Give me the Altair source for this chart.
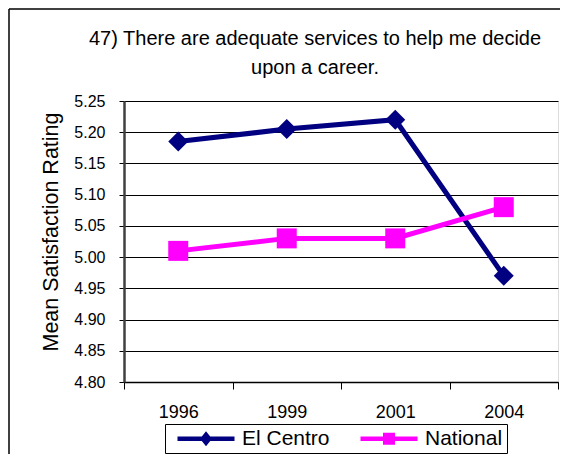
import altair as alt
import pandas as pd

# ---- data ----
years = ["1996", "1999", "2001", "2004"]
el_centro = [5.185, 5.205, 5.22, 4.97]
national = [5.01, 5.03, 5.03, 5.08]
series_names = ["El Centro", "National"]
series_colors = ["#000080", "#FF00FF"]
marker_shapes = ["diamond", "square"]
y_ticks = [4.80, 4.85, 4.90, 4.95, 5.00, 5.05, 5.10, 5.15, 5.20, 5.25]
y_domain = [4.80, 5.25]
title_lines = ["47) There are adequate services to help me decide", "upon a career."]
y_title = "Mean Satisfaction Rating"

# legend symbols: line with marker (custom SVG paths, unit = half symbol size)
legend_symbols = [
    "M-1,-0.22L4.7,-0.22L4.7,0.22L-1,0.22Z M1.85,-0.75L2.45,0L1.85,0.75L1.25,0Z",
    "M-1,-0.22L4.7,-0.22L4.7,0.22L-1,0.22Z M1.25,-0.6L2.45,-0.6L2.45,0.6L1.25,0.6Z",
]

rows = []
for name, vals in zip(series_names, [el_centro, national]):
    for yr, v in zip(years, vals):
        rows.append({"year": yr, "series": name, "value": v})
df = pd.DataFrame(rows)

FONT = "Liberation Sans"
W, H = 434, 281

x_enc = alt.X(
    "year:N",
    sort=years,
    bandPosition=0.5,
    scale=alt.Scale(type="band", domain=years, paddingInner=0, paddingOuter=0),
    axis=alt.Axis(
        title=None, labelAngle=0, labelFont=FONT, labelFontSize=18, labelColor="black",
        labelPadding=14, tickSize=7, tickColor="black", tickWidth=1, tickBand="extent",
        domainColor="black", domainWidth=1.5, grid=False,
    ),
)
y_enc = alt.Y(
    "value:Q",
    scale=alt.Scale(domain=y_domain, zero=False, nice=False),
    axis=alt.Axis(
        values=y_ticks, format=".2f", title=y_title, titleFont=FONT, titleFontSize=21.5,
        titleFontWeight="normal", titleColor="black", titlePadding=11, titleY=130.5,
        labelFont=FONT, labelFontSize=16, labelColor="black", labelPadding=14,
        tickSize=5, tickColor="black", domainColor="#404040", domainWidth=2.5,
        gridColor="black", gridWidth=1,
    ),
)

color_scale = alt.Scale(domain=series_names, range=series_colors)

base = alt.Chart(df)

lines = base.mark_line(strokeWidth=5).encode(
    x=x_enc, y=y_enc,
    color=alt.Color("series:N", scale=color_scale, legend=None),
)
points = base.mark_point(filled=True, opacity=1, size=400).encode(
    x=x_enc, y=y_enc,
    color=alt.Color("series:N", scale=color_scale, legend=None),
    shape=alt.Shape("series:N", scale=alt.Scale(domain=series_names, range=marker_shapes), legend=None),
)

legend_cfg = dict(
    title=None, orient="none", legendX=41, legendY=323, direction="horizontal",
    strokeColor="black", fillColor="white", padding=4, cornerRadius=0,
    symbolSize=400, symbolStrokeWidth=0, symbolOpacity=1, symbolOffset=8,
    labelOffset=44, labelFont=FONT, labelFontSize=21, labelColor="black",
    columnPadding=22, labelExpr="datum.label + ' '",
)
legend_layer = base.mark_point(filled=True, opacity=0, size=400).encode(
    x=x_enc, y=y_enc,
    color=alt.Color("series:N", scale=alt.Scale(domain=series_names, range=series_colors),
                    legend=alt.Legend(**legend_cfg)),
    shape=alt.Shape("series:N", scale=alt.Scale(domain=series_names, range=legend_symbols),
                    legend=alt.Legend(**legend_cfg)),
)

frame_data = alt.Data(values=[{"f": 1}])
frame_left = alt.Chart(frame_data).mark_rule(color="black", strokeWidth=1.5).encode(
    x=alt.value(-115), y=alt.value(-92), y2=alt.value(H + 72)
)
frame_top = alt.Chart(frame_data).mark_rule(color="black", strokeWidth=1.5).encode(
    x=alt.value(-115), x2=alt.value(W + 2), y=alt.value(-92)
)

chart = (
    alt.layer(frame_left, frame_top, lines, points, legend_layer)
    .resolve_scale(color="independent", shape="independent")
    .properties(
        width=W, height=H,
        title=alt.Title(
            title_lines, font=FONT, fontSize=20, fontWeight="normal", color="black",
            anchor="middle", dx=-26, lineHeight=29, offset=-70,
        ),
        autosize=alt.AutoSizeParams(type="none"),
        padding={"left": 116, "top": 93, "right": 2, "bottom": 72},
    )
    .configure_view(stroke="#808080", strokeWidth=2.5)
    .configure(background="white")
)

chart.save("out.html", embed_options={"renderer": "svg", "actions": False})
